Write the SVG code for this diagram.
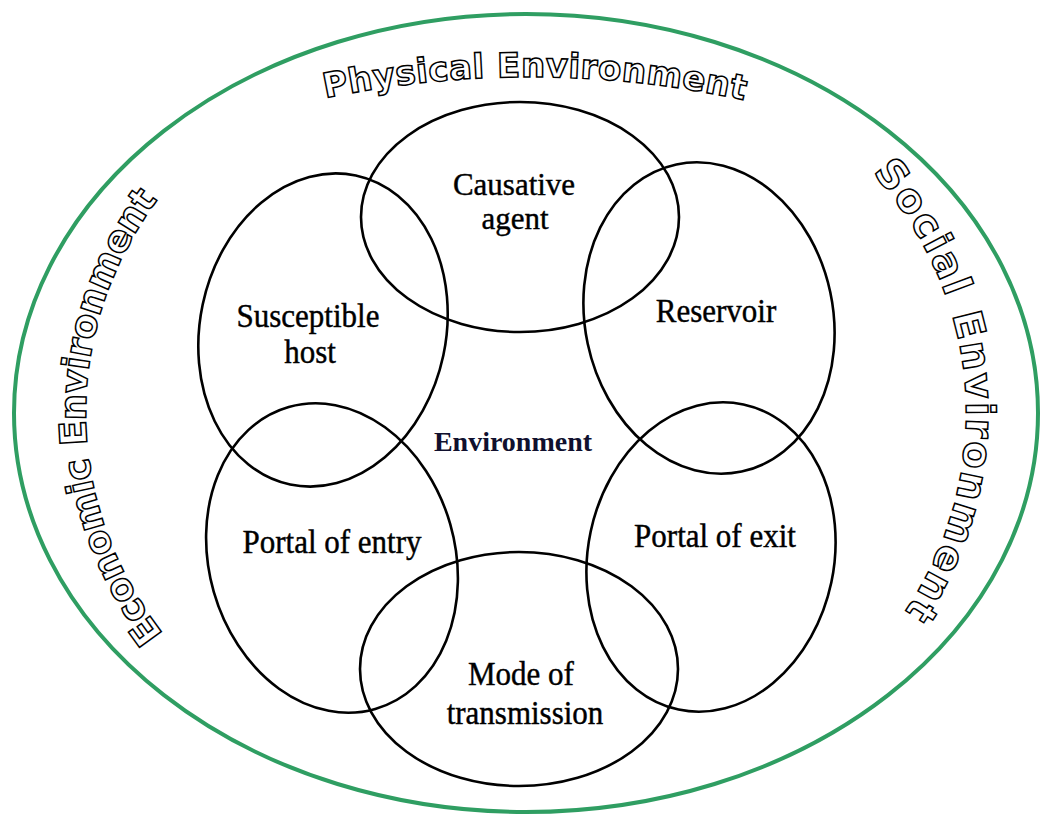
<svg xmlns="http://www.w3.org/2000/svg" width="1044" height="818" viewBox="0 0 1044 818">
<style>
.bg{fill:#ffffff}
.outer{fill:none;stroke:#2f9e62;stroke-width:4}
.ring{fill:none;stroke:#000;stroke-width:2.6}
.lbl{font-family:"Liberation Serif","Times New Roman",serif;font-size:31px;fill:#000;stroke:#000;stroke-width:0.4;text-anchor:middle}
.env{font-family:"Liberation Serif","Times New Roman",serif;font-size:28px;font-weight:bold;fill:#10102e;text-anchor:middle}
.arc{font-family:"DejaVu Sans","Liberation Sans",sans-serif;font-weight:bold;fill:#fff;stroke:#000;stroke-width:1.5;text-anchor:middle}
</style>
<defs>
<path id="pTop" d="M 230,123 A 1000,1000 0 0 1 830,123"/>
<path id="pRight" d="M 602.4,28.9 A 440,390 0 0 1 602.4,797.1"/>
<path id="pLeft" d="M 449.6,797.1 A 440,390 0 0 1 449.6,28.9"/>
</defs>
<rect class="bg" x="0" y="0" width="1044" height="818"/>
<g id="outer-environment">
<ellipse class="outer" cx="526" cy="413" rx="512" ry="399"/>
<text class="arc" font-size="34"><textPath href="#pTop" startOffset="50.8%" textLength="422" lengthAdjust="spacing">Physical Environment</textPath></text>
<text class="arc" font-size="40"><textPath href="#pRight" startOffset="47.7%" textLength="475" lengthAdjust="spacing">Social Environment</textPath></text>
<text class="arc" font-size="37"><textPath href="#pLeft" startOffset="49.6%" textLength="468" lengthAdjust="spacing">Economic Environment</textPath></text>
</g>
<g id="connectors"></g>
<g id="causative-agent">
<ellipse class="ring" cx="520" cy="217" rx="159" ry="115"/>
<text class="lbl" x="514" y="195">Causative</text>
<text class="lbl" x="515" y="229">agent</text>
</g>
<g id="susceptible-host">
<ellipse class="ring" cx="323" cy="330" rx="123" ry="158" transform="rotate(12 323 330)"/>
<text class="lbl" transform="translate(308,327) scale(1,1.06)">Susceptible</text>
<text class="lbl" transform="translate(310,363) scale(1,1.06)">host</text>
</g>
<g id="reservoir">
<ellipse class="ring" cx="709" cy="318" rx="124" ry="157" transform="rotate(-12 709 318)"/>
<text class="lbl" transform="translate(716,322) scale(1,1.06)">Reservoir</text>
</g>
<g id="portal-of-entry">
<ellipse class="ring" cx="332" cy="558" rx="123" ry="157" transform="rotate(-16 332 558)"/>
<text class="lbl" transform="translate(332,553) scale(1,1.06)">Portal of entry</text>
</g>
<g id="portal-of-exit">
<ellipse class="ring" cx="711" cy="557" rx="123" ry="156" transform="rotate(12 711 557)"/>
<text class="lbl" transform="translate(715,547) scale(1,1.06)">Portal of exit</text>
</g>
<g id="mode-of-transmission">
<ellipse class="ring" cx="519" cy="669" rx="159" ry="117"/>
<text class="lbl" transform="translate(521,685) scale(1,1.06)">Mode of</text>
<text class="lbl" transform="translate(525,724) scale(1,1.06)">transmission</text>
</g>
<g id="environment">
<text class="env" x="513" y="451">Environment</text>
</g>
</svg>
